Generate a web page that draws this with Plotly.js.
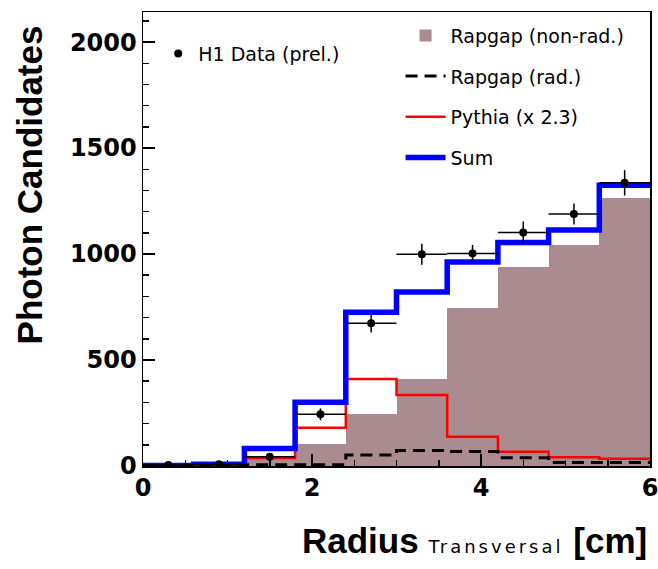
<!DOCTYPE html>
<html>
<head>
<meta charset="utf-8">
<script src="https://cdn.plot.ly/plotly-3.0.1.min.js"></script>
<style>html,body{margin:0;padding:0;background:#fff;}#chart{width:658px;height:569px;}</style>
</head>
<body>
<div id="chart"></div>
<script>
// Bin edges of the radius histogram [cm]
const binEdges = [0, 0.6, 1.2, 1.8, 2.4, 3.0, 3.6, 4.2, 4.8, 5.4, 6.0];
const binCenters = [0.3, 0.9, 1.5, 2.1, 2.7, 3.3, 3.9, 4.5, 5.1, 5.7];
// Monte Carlo expectations per bin
const rapgapNonRad = [0, 3, 35, 102, 245, 409, 744, 937, 1042, 1266];
const rapgapRad    = [2, 3, 6, 6, 52, 73, 69, 39, 16, 16];
const pythia       = [1, 2, 38, 181, 410, 335, 138, 67, 41, 34];
const sumMC        = [2, 8, 83, 301, 725, 821, 962, 1055, 1113, 1325];
// H1 data (prel.)
const dataY    = [5, 8, 44, 244, 673, 999, 1003, 1102, 1189, 1336];
const dataErrY = [5, 6, 14, 28, 43, 50, 40, 51, 50, 60];
const dataErrX = [0.3, 0.3, 0.3, 0.3, 0.3, 0.3, 0.3, 0.3, 0.3, 0.3];
// axis ticks
const xTicks = [0, 2, 4, 6];
const yTicks = [0, 500, 1000, 1500, 2000];

function stepY(vals) { return vals.concat([vals[vals.length - 1]]); }

const traces = [
  {
    type: 'bar', x: binCenters, y: rapgapNonRad, width: 0.6,
    name: 'Rapgap (non-rad.)', legendgroup: 'a', legendrank: 1,
    marker: {color: '#aa8b8f', line: {width: 0}}, hoverinfo: 'skip'
  },
  {
    type: 'scatter', mode: 'lines', x: binEdges, y: stepY(pythia),
    name: 'Pythia (x 2.3)', legendgroup: 'c', legendrank: 3,
    line: {shape: 'hv', color: '#ff0000', width: 2.5}
  },
  {
    type: 'scatter', mode: 'lines', x: binEdges, y: stepY(sumMC),
    name: 'Sum', legendgroup: 'd', legendrank: 4,
    line: {shape: 'hv', color: '#0000ff', width: 5.5}
  },
  {
    type: 'scatter', mode: 'lines', x: binEdges, y: stepY(rapgapRad),
    name: 'Rapgap (rad.)', legendgroup: 'b', legendrank: 2,
    line: {shape: 'hv', color: '#000000', width: 3, dash: '12px,7px'}
  },
  {
    type: 'scatter', mode: 'markers', x: binCenters, y: dataY,
    name: 'H1 Data (prel.)', legend: 'legend2',
    marker: {color: '#000', size: 8, symbol: 'circle'},
    error_y: {type: 'data', array: dataErrY, color: '#000', thickness: 1.5, width: 0},
    error_x: {type: 'data', array: dataErrX, color: '#000', thickness: 1.5, width: 0}
  }
];

const axisCommon = {
  showline: true, linecolor: '#000', linewidth: 1.5, mirror: true,
  showgrid: false, zeroline: false,
  ticks: 'inside', ticklen: 12, tickwidth: 1.5, tickcolor: '#000',
  ticklabeloverflow: 'allow',
  tickfont: {family: 'DejaVu Sans', size: 24, weight: 'bold', color: '#000'}
};

const layout = {
  width: 658, height: 569,
  margin: {l: 143, r: 8, t: 12, b: 103},
  paper_bgcolor: '#fff', plot_bgcolor: '#fff',
  barmode: 'overlay', bargap: 0,
  xaxis: Object.assign({}, axisCommon, {
    range: [0, 6], tickvals: xTicks, ticktext: xTicks.map(String),
    minor: {dtick: 0.5, ticks: 'inside', ticklen: 6, tickwidth: 1.5, tickcolor: '#000', showgrid: false}
  }),
  yaxis: Object.assign({}, axisCommon, {
    range: [0, 2142], tickvals: yTicks, ticktext: yTicks.map(String),
    minor: {dtick: 100, ticks: 'inside', ticklen: 6, tickwidth: 1.5, tickcolor: '#000', showgrid: false}
  }),
  showlegend: true,
  legend: {
    x: 0.508, y: 0.99, xanchor: 'left', yanchor: 'top',
    bgcolor: 'rgba(0,0,0,0)', borderwidth: 0,
    traceorder: 'grouped', tracegroupgap: 13, itemwidth: 40,
    font: {family: 'DejaVu Sans', size: 19, color: '#000'}
  },
  legend2: {
    x: 0.03, y: 0.95, xanchor: 'left', yanchor: 'top',
    bgcolor: 'rgba(0,0,0,0)', borderwidth: 0,
    font: {family: 'DejaVu Sans', size: 19, color: '#000'}
  },
  annotations: [
    {
      xref: 'paper', yref: 'paper', x: -0.223, y: 0.62, xanchor: 'center', yanchor: 'middle',
      textangle: -90, showarrow: false,
      text: 'Photon Candidates',
      font: {family: 'Liberation Sans', size: 35, weight: 'bold', color: '#000'}
    },
    {
      xref: 'paper', yref: 'paper', x: 0.998, y: -0.165, xanchor: 'right', yanchor: 'middle',
      showarrow: false,
      text: 'Radius <span style="font-size:18px;font-weight:normal;font-family:DejaVu Sans;letter-spacing:3px">Transversal</span> [cm]',
      font: {family: 'Liberation Sans', size: 35, weight: 'bold', color: '#000'}
    }
  ]
};

Plotly.newPlot('chart', traces, layout, {displayModeBar: false, staticPlot: true});
</script>
</body>
</html>
